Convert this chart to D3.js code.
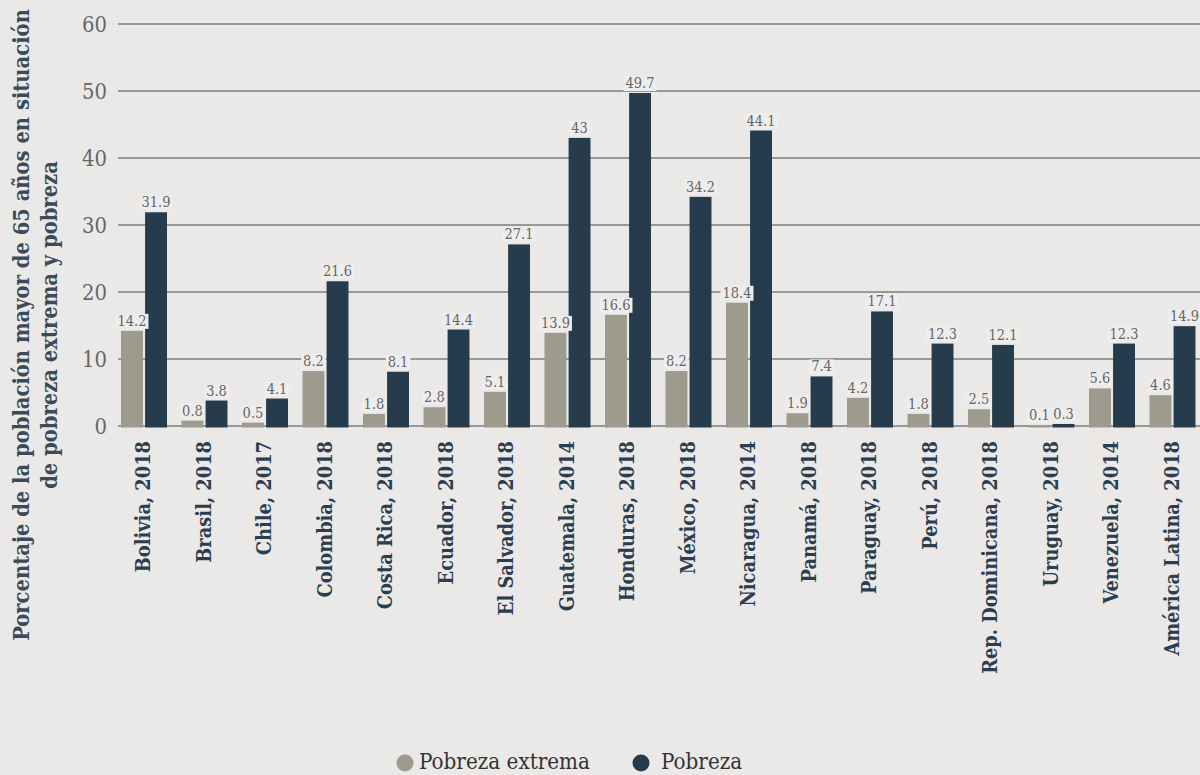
<!DOCTYPE html>
<html><head><meta charset="utf-8">
<script src="https://cdn.jsdelivr.net/npm/d3@7"></script>
<style>
html,body{margin:0;padding:0;background:#ebe9e7;}
svg{display:block;}
</style></head>
<body>
<svg id="chart" width="1200" height="775"></svg>
<script>
const categories = ["Bolivia, 2018","Brasil, 2018","Chile, 2017","Colombia, 2018","Costa Rica, 2018","Ecuador, 2018","El Salvador, 2018","Guatemala, 2014","Honduras, 2018","México, 2018","Nicaragua, 2014","Panamá, 2018","Paraguay, 2018","Perú, 2018","Rep. Dominicana, 2018","Uruguay, 2018","Venezuela, 2014","América Latina, 2018"];
const pobrezaExtrema = [14.2,0.8,0.5,8.2,1.8,2.8,5.1,13.9,16.6,8.2,18.4,1.9,4.2,1.8,2.5,0.1,5.6,4.6];
const pobreza = [31.9,3.8,4.1,21.6,8.1,14.4,27.1,43,49.7,34.2,44.1,7.4,17.1,12.3,12.1,0.3,12.3,14.9];
const seriesNames = ["Pobreza extrema","Pobreza"];
const yTicks = [0,10,20,30,40,50,60];
const titleLines = ["Porcentaje de la población mayor de 65 años en situación","de pobreza extrema y pobreza"];

const colors = ["#9d9a8e","#263c4d"];
const font = "'DejaVu Serif Condensed', 'DejaVu Serif', serif";

function fit(sel, target){
  const n = sel.node();
  const fs = parseFloat(sel.style("font-size"));
  const w = n.getComputedTextLength();
  const nf = fs*target/w;
  sel.style("font-size", nf.toFixed(2)+"px");
  return nf;
}

function draw(){
const svg = d3.select("#chart");
const y = d3.scaleLinear().domain([0,60]).range([426,24]);
const step = 60.5, x0 = 113.75;
const xb = d3.scaleBand().domain(categories).range([x0, x0+step*categories.length]).paddingInner(0.24).paddingOuter(0.12);
const xs = d3.scaleBand().domain(seriesNames).range([0, xb.bandwidth()]).paddingInner(0.09);

svg.append("g").selectAll("line").data(yTicks).join("line")
  .attr("x1",118).attr("x2",1200)
  .attr("y1",d=>y(d)).attr("y2",d=>y(d))
  .attr("stroke","#7d7d7d").attr("stroke-width",1.3);

const yl = svg.append("g").selectAll("text").data(yTicks).join("text")
  .attr("x",107).attr("y",d=>y(d)).attr("dy","0.35em")
  .attr("text-anchor","end").attr("fill","#666")
  .style("font-family",font).style("font-size","20px")
  .text(d=>d);
const tickFs = fit(d3.select(yl.nodes()[6]), 25);
yl.style("font-size", tickFs+"px");

const data = [pobrezaExtrema, pobreza];
data.forEach((vals,si)=>{
  svg.append("g").selectAll("rect").data(vals).join("rect")
    .attr("x",(d,i)=>xb(categories[i])+xs(seriesNames[si]))
    .attr("y",d=>y(d))
    .attr("width",xs.bandwidth())
    .attr("height",d=>y(0)-y(d)+1.5)
    .attr("fill",colors[si]);
});

const lblG = svg.append("g");
const probe = lblG.append("text").style("font-family",font).style("font-size","14px").text("49.7");
const lblFs = 14*29/probe.node().getComputedTextLength();
probe.remove();
data.forEach((vals,si)=>{
  vals.forEach((d,i)=>{
    const cx = xb(categories[i])+xs(seriesNames[si])+xs.bandwidth()/2;
    const bg = lblG.append("rect").attr("fill","#eeeded");
    const t = lblG.append("text")
      .attr("x",cx).attr("y",y(d)-5)
      .attr("text-anchor","middle").attr("fill","#666")
      .style("font-family",font).style("font-size",lblFs+"px")
      .text(d);
    const bb = t.node().getBBox();
    bg.attr("x",bb.x-2).attr("y",bb.y+1).attr("width",bb.width+4).attr("height",bb.height-1);
  });
});

const xl = svg.append("g").selectAll("text").data(categories).join("text")
  .attr("transform",d=>`translate(${xb(d)+xb.bandwidth()/2+6},441) rotate(-90)`)
  .attr("text-anchor","end").attr("fill","#2b3e50")
  .style("font-family",font).style("font-size","18px").style("font-weight","bold")
  .text(d=>d);
const xFs = fit(d3.select(xl.nodes()[14]), 233);
xl.style("font-size", xFs+"px");

const yt = svg.append("g").attr("transform","translate(0,325) rotate(-90)");
const t1 = yt.append("text").attr("x",0).attr("y",29)
  .attr("text-anchor","middle").attr("fill","#3c4b58")
  .style("font-family",font).style("font-size","18px").style("font-weight","bold")
  .text(titleLines[0]);
const tFs = fit(t1, 632);
yt.append("text").attr("x",0).attr("y",57)
  .attr("text-anchor","middle").attr("fill","#3c4b58")
  .style("font-family",font).style("font-size",tFs+"px").style("font-weight","bold")
  .text(titleLines[1]);

const leg = [{n:seriesNames[0],cx:405,tx:419},{n:seriesNames[1],cx:641,tx:661}];
let legFs = 20;
leg.forEach((l,i)=>{
  svg.append("circle").attr("cx",l.cx).attr("cy",763).attr("r",8.5).attr("fill",colors[i]);
  const t = svg.append("text").attr("x",l.tx).attr("y",769).attr("fill","#333")
    .style("font-family",font).style("font-size",legFs+"px").text(l.n);
  if(i===0) legFs = fit(t,171);
});
}

Promise.all([
  document.fonts.load("16px 'DejaVu Serif Condensed'"),
  document.fonts.load("bold 16px 'DejaVu Serif Condensed'"),
  document.fonts.load("16px 'DejaVu Serif'"),
  document.fonts.load("bold 16px 'DejaVu Serif'")
]).catch(()=>{}).then(draw);
</script>
</body></html>
